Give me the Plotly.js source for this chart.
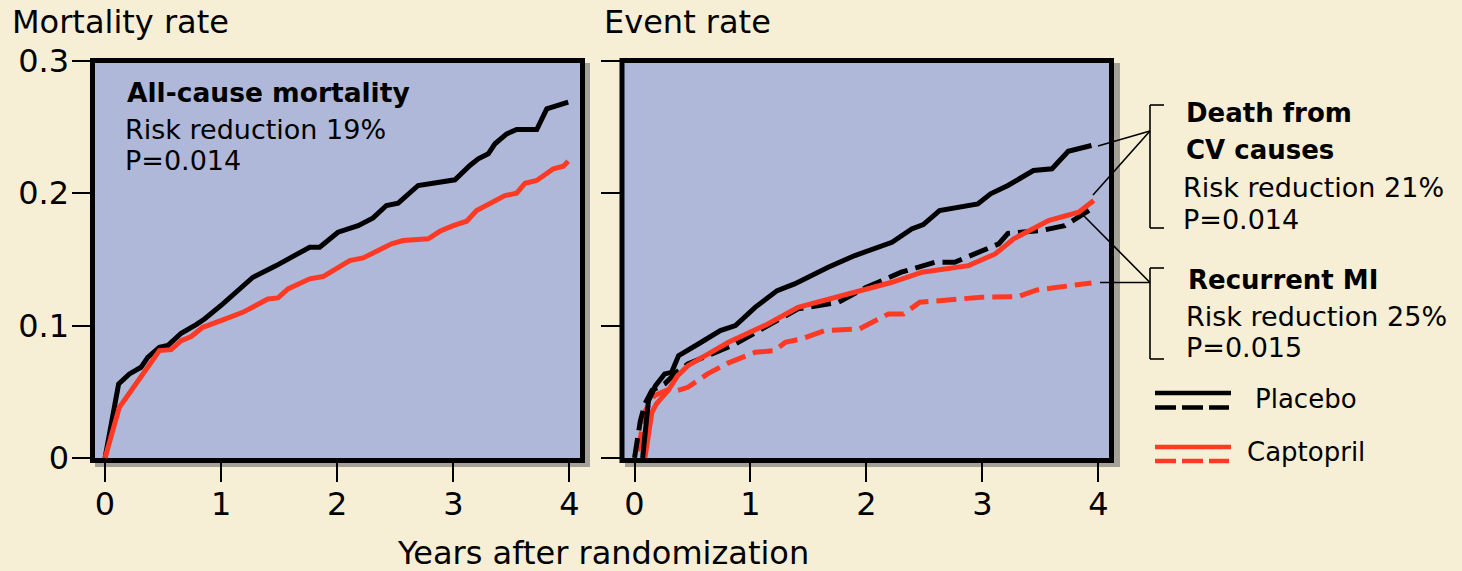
<!DOCTYPE html>
<html>
<head>
<meta charset="utf-8">
<script src="https://cdn.plot.ly/plotly-3.0.1.min.js"></script>
<style>
  html, body { margin: 0; padding: 0; background: #f6efd5; }
  #chart { width: 1462px; height: 571px; }
</style>
</head>
<body>
<div id="chart"></div>
<script>
// ---------------- DATA ----------------
// Left panel: all-cause mortality
const allPlaceboYears = [0, 0.117, 0.21, 0.31, 0.368, 0.468, 0.54, 0.656, 0.785, 0.857, 1.015, 1.274, 1.475, 1.763, 1.849, 2.007, 2.18, 2.309, 2.424, 2.525, 2.697, 3.014, 3.143, 3.215, 3.301, 3.359, 3.46, 3.546, 3.719, 3.805, 3.99];
const allPlaceboRate  = [0, 0.0559, 0.0635, 0.0685, 0.076, 0.0836, 0.0849, 0.0942, 0.1007, 0.105, 0.1164, 0.1365, 0.1453, 0.1592, 0.1592, 0.1705, 0.1755, 0.1813, 0.1907, 0.1924, 0.2058, 0.2101, 0.2209, 0.2259, 0.2297, 0.2373, 0.2448, 0.2481, 0.2481, 0.2637, 0.2687];
const allCaptoYears   = [0, 0.123, 0.296, 0.468, 0.569, 0.656, 0.742, 0.842, 1.015, 1.187, 1.403, 1.49, 1.576, 1.763, 1.878, 2.108, 2.223, 2.468, 2.568, 2.784, 2.884, 2.999, 3.115, 3.201, 3.445, 3.546, 3.618, 3.719, 3.862, 3.948, 3.99];
const allCaptoRate    = [0, 0.0383, 0.0597, 0.0811, 0.0818, 0.0886, 0.0917, 0.0987, 0.1043, 0.11, 0.1201, 0.1209, 0.1277, 0.1353, 0.137, 0.1491, 0.1511, 0.1617, 0.1642, 0.1655, 0.1712, 0.1755, 0.1788, 0.1869, 0.1982, 0.2, 0.2075, 0.2096, 0.2184, 0.2204, 0.2241];

// Right panel: death from CV causes (solid) and recurrent MI (dashed)
const cvPlaceboYears = [0.07, 0.12, 0.18, 0.26, 0.32, 0.38, 0.55, 0.74, 0.87, 1.04, 1.23, 1.38, 1.67, 1.90, 2.22, 2.39, 2.49, 2.63, 2.96, 3.07, 3.22, 3.44, 3.60, 3.74, 3.94];
const cvPlaceboRate  = [0.0, 0.043, 0.0546, 0.0635, 0.0647, 0.0773, 0.0861, 0.0962, 0.1, 0.1138, 0.1264, 0.1315, 0.144, 0.1529, 0.1629, 0.173, 0.1763, 0.1869, 0.1919, 0.1995, 0.2058, 0.2171, 0.2184, 0.2317, 0.236];
const cvCaptoYears   = [0.09, 0.15, 0.19, 0.29, 0.37, 0.46, 0.81, 1.15, 1.41, 1.79, 2.22, 2.48, 2.88, 3.11, 3.27, 3.57, 3.83, 3.96];
const cvCaptoRate    = [0.0, 0.0345, 0.041, 0.0509, 0.062, 0.0697, 0.0874, 0.1012, 0.1138, 0.1226, 0.1327, 0.1403, 0.1453, 0.1541, 0.1655, 0.1793, 0.1856, 0.1944];
const miPlaceboYears = [0.0, 0.05, 0.09, 0.15, 0.26, 0.36, 0.46, 0.69, 0.87, 1.15, 1.41, 1.76, 1.99, 2.30, 2.59, 2.76, 3.14, 3.22, 3.51, 3.71, 3.94];
const miPlaceboRate  = [0.0, 0.028, 0.041, 0.051, 0.056, 0.0647, 0.071, 0.0798, 0.0861, 0.1, 0.1126, 0.1176, 0.1285, 0.1403, 0.1478, 0.1478, 0.1617, 0.1697, 0.1718, 0.1755, 0.1882];
const miCaptoYears   = [0.03, 0.09, 0.17, 0.30, 0.37, 0.46, 0.63, 0.80, 1.04, 1.21, 1.30, 1.44, 1.64, 1.94, 2.19, 2.32, 2.46, 2.76, 2.99, 3.31, 3.47, 3.65, 3.94];
const miCaptoRate    = [0.005, 0.035, 0.047, 0.052, 0.051, 0.0534, 0.0635, 0.0715, 0.0798, 0.0811, 0.0874, 0.0899, 0.0962, 0.0975, 0.1088, 0.1088, 0.1176, 0.1201, 0.1214, 0.1219, 0.1269, 0.1289, 0.1322];

// Tick labels
const xTickVals = [0, 1, 2, 3, 4];
const xTickText = ['0', '1', '2', '3', '4'];
const yTickVals = [0, 0.1, 0.2, 0.3];
const yTickText = ['0', '0.1', '0.2', '0.3'];

// ---------------- LAYOUT HELPERS ----------------
const W = 1462, H = 571;
const X = px => px / W;
const Y = py => 1 - py / H;

const BLACK = '#000000';
const RED = '#ff3a24';
const PANEL = '#afb8d8';
const SHADOW = '#a4a199';
const PAPER = '#f6efd5';
const FONT = 'DejaVu Sans';

const domL = [X(92.5), X(582.5)];
const domR = [X(622), X(1111.5)];
const domY = [Y(460.5), Y(60.5)];
const xRange = [-0.108, 4.113];
const yRange = [-0.0019, 0.3002];

const LW = 5;
const DASH = '20px,8px';

const traces = [
  { x: allPlaceboYears, y: allPlaceboRate, xaxis: 'x', yaxis: 'y', mode: 'lines', line: { color: BLACK, width: LW }, name: 'Placebo' },
  { x: allCaptoYears, y: allCaptoRate, xaxis: 'x', yaxis: 'y', mode: 'lines', line: { color: RED, width: LW }, name: 'Captopril' },
  { x: miCaptoYears, y: miCaptoRate, xaxis: 'x2', yaxis: 'y2', mode: 'lines', line: { color: RED, width: LW, dash: DASH }, name: 'Captopril MI' },
  { x: miPlaceboYears, y: miPlaceboRate, xaxis: 'x2', yaxis: 'y2', mode: 'lines', line: { color: BLACK, width: LW, dash: DASH }, name: 'Placebo MI' },
  { x: cvCaptoYears, y: cvCaptoRate, xaxis: 'x2', yaxis: 'y2', mode: 'lines', line: { color: RED, width: LW }, name: 'Captopril CV' },
  { x: cvPlaceboYears, y: cvPlaceboRate, xaxis: 'x2', yaxis: 'y2', mode: 'lines', line: { color: BLACK, width: LW }, name: 'Placebo CV' }
];

function xAxis(domain, anchor) {
  return {
    domain: domain, anchor: anchor, range: xRange,
    showgrid: false, zeroline: false, showline: false,
    ticks: 'outside', ticklen: 20, tickwidth: 2, tickcolor: BLACK,
    tickmode: 'array', tickvals: xTickVals, ticktext: xTickText,
    ticklabelstandoff: -5,
    tickfont: { family: FONT, size: 32, color: BLACK }, fixedrange: true
  };
}
function yAxis(anchor, labels) {
  return {
    domain: domY, anchor: anchor, range: yRange,
    showgrid: false, zeroline: false, showline: false,
    ticks: 'outside', ticklen: 20, tickwidth: 2, tickcolor: BLACK,
    tickmode: 'array', tickvals: yTickVals, ticktext: yTickText,
    showticklabels: labels, ticklabelstandoff: -4,
    tickfont: { family: FONT, size: 32, color: BLACK }, fixedrange: true
  };
}

function thin(x0, y0, x1, y1) {
  return { type: 'line', xref: 'paper', yref: 'paper', x0: X(x0), y0: Y(y0), x1: X(x1), y1: Y(y1), line: { color: BLACK, width: 1.6 } };
}
function legLine(x0, x1, y, color, dash) {
  return { type: 'line', xref: 'paper', yref: 'paper', x0: X(x0), y0: Y(y), x1: X(x1), y1: Y(y), line: { color: color, width: 4.5, dash: dash || 'solid' } };
}

const shapes = [
  // shadows
  { type: 'rect', xref: 'paper', yref: 'paper', layer: 'below', x0: X(95), x1: X(590), y0: Y(467), y1: Y(63), fillcolor: SHADOW, line: { width: 0 } },
  { type: 'rect', xref: 'paper', yref: 'paper', layer: 'below', x0: X(625), x1: X(1120), y0: Y(467), y1: Y(63), fillcolor: SHADOW, line: { width: 0 } },
  // panels
  { type: 'rect', xref: 'paper', yref: 'paper', layer: 'below', x0: domL[0], x1: domL[1], y0: domY[0], y1: domY[1], fillcolor: PANEL, line: { color: BLACK, width: 5 } },
  { type: 'rect', xref: 'paper', yref: 'paper', layer: 'below', x0: domR[0], x1: domR[1], y0: domY[0], y1: domY[1], fillcolor: PANEL, line: { color: BLACK, width: 5 } },
  // brackets
  thin(1164, 105, 1150, 105), thin(1150, 105, 1150, 228), thin(1150, 228, 1164, 228),
  thin(1164, 268, 1150, 268), thin(1150, 268, 1150, 359), thin(1150, 359, 1164, 359),
  // leader lines
  thin(1098, 146, 1150, 131), thin(1093, 195, 1150, 131),
  thin(1083, 215, 1150, 282.5), thin(1100, 282.5, 1150, 282.5),
  // custom legend lines
  legLine(1155, 1231, 393, BLACK), legLine(1155, 1229, 407.5, BLACK, '21px,6px'),
  legLine(1155, 1231, 447, RED), legLine(1155, 1229, 461, RED, '21px,6px')
];

function txt(text, x, y, size, bold, anchor) {
  return {
    text: bold ? '<b>' + text + '</b>' : text,
    xref: 'paper', yref: 'paper', x: X(x), y: Y(y),
    xanchor: anchor || 'left', yanchor: 'middle', showarrow: false,
    font: { family: FONT, size: size, color: BLACK }
  };
}

const annotations = [
  txt('Mortality rate', 10, 22, 32),
  txt('Event rate', 602, 22, 32),
  txt('Years after randomization', 603, 553, 32, false, 'center'),
  txt('All-cause mortality', 125, 93, 26.5, true),
  txt('Risk reduction 19%', 123, 130, 27),
  txt('P=0.014', 123, 160, 27),
  txt('Death from', 1184, 113, 26, true),
  txt('CV causes', 1184, 150, 26, true),
  txt('Risk reduction 21%', 1181, 188, 27),
  txt('P=0.014', 1181, 219, 27),
  txt('Recurrent MI', 1186, 280, 26, true),
  txt('Risk reduction 25%', 1184, 316, 27),
  txt('P=0.015', 1184, 347, 27),
  txt('Placebo', 1253, 399, 26),
  txt('Captopril', 1245, 452, 26)
];

const layout = {
  width: W, height: H,
  margin: { l: 0, r: 0, t: 0, b: 0 },
  paper_bgcolor: PAPER, plot_bgcolor: 'rgba(0,0,0,0)',
  font: { family: FONT, color: BLACK },
  showlegend: false,
  xaxis: xAxis(domL, 'y'),
  yaxis: yAxis('x', true),
  xaxis2: xAxis(domR, 'y2'),
  yaxis2: yAxis('x2', false),
  shapes: shapes,
  annotations: annotations
};

Plotly.newPlot('chart', traces, layout, { displayModeBar: false, staticPlot: true });
</script>
</body>
</html>
